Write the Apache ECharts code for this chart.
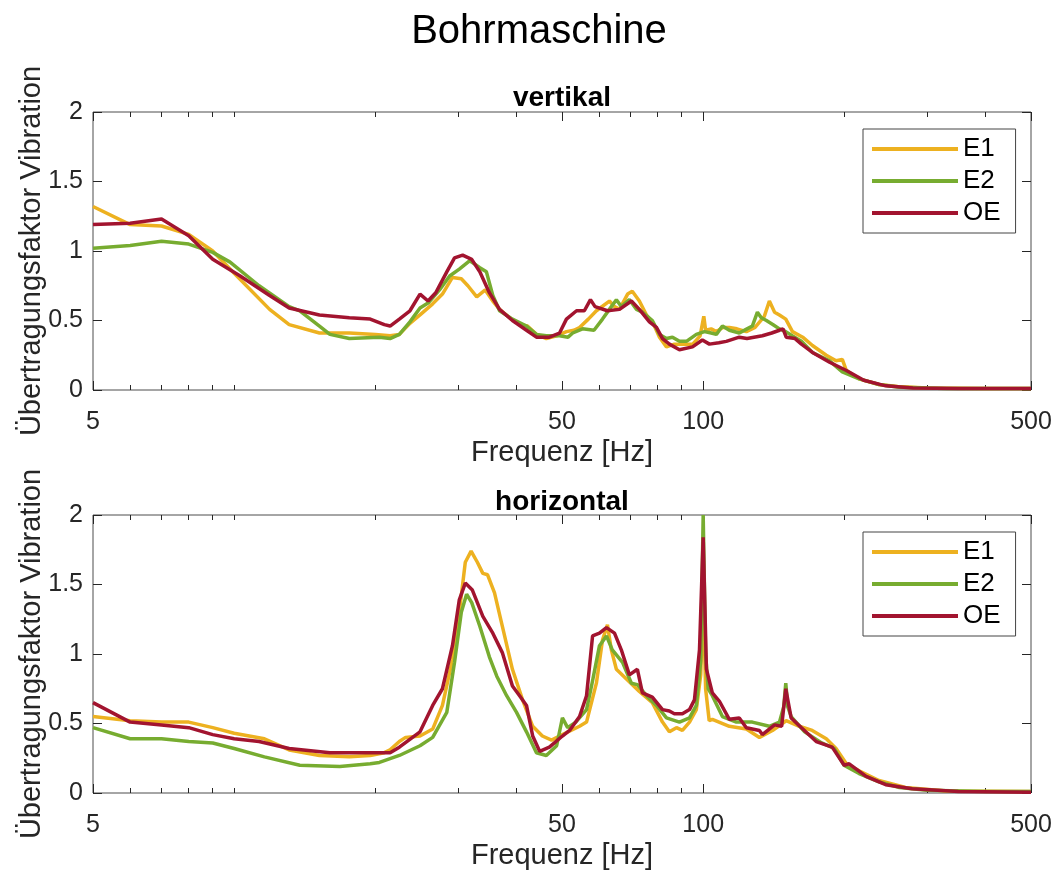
<!DOCTYPE html>
<html>
<head>
<meta charset="utf-8">
<title>Bohrmaschine</title>
<script src="https://cdn.jsdelivr.net/npm/echarts@6.0.0/dist/echarts.min.js"></script>
<style>
html, body { margin: 0; padding: 0; background: #fff; }
#chart { width: 1059px; height: 871px; }
</style>
</head>
<body>
<div id="chart"></div>
<script>
// Frequenz [Hz] / Übertragungsfaktor
var seriesNames = ['E1', 'E2', 'OE'];
var seriesColors = ['#EDB120', '#77AC30', '#A2142F'];
var xLabelTicks = [5, 50, 100, 500];
var xMinorTicks = [6, 7, 8, 9, 10, 20, 30, 40, 60, 70, 80, 90, 200, 300, 400];

// vertikal
var vertE1 = [[5,1.32],[6,1.19],[7,1.18],[8,1.12],[9,1.0],[10,0.84],[11.9,0.58],[13.1,0.47],[15.2,0.41],[17.6,0.41],[20,0.40],[21.5,0.39],[22.5,0.40],[23.7,0.48],[24.9,0.54],[26.5,0.62],[27.8,0.69],[29.2,0.81],[30.5,0.80],[31.5,0.75],[32.9,0.67],[34.3,0.72],[35.6,0.64],[36.8,0.58],[39,0.51],[40.6,0.47],[42.2,0.46],[44.1,0.40],[46.3,0.37],[48.7,0.39],[51.1,0.42],[53,0.43],[54.5,0.45],[56.9,0.51],[59.2,0.57],[63.1,0.64],[64.7,0.60],[66.3,0.58],[69,0.69],[70.6,0.71],[73.1,0.64],[75.7,0.54],[78.5,0.47],[80.7,0.38],[83.5,0.31],[86.8,0.33],[90,0.33],[95,0.33],[98.5,0.39],[100.3,0.53],[101.2,0.43],[104,0.44],[106.7,0.42],[110,0.45],[113.7,0.45],[118,0.44],[123.6,0.42],[129,0.45],[135,0.53],[138.4,0.64],[142,0.56],[145.4,0.54],[150,0.51],[155,0.42],[163,0.38],[171,0.32],[183,0.25],[192,0.21],[198,0.22],[202,0.14],[215,0.08],[237,0.04],[260,0.025],[300,0.015],[400,0.01],[500,0.01]];
var vertE2 = [[5,1.02],[6,1.04],[7,1.07],[8,1.05],[9,0.99],[9.8,0.92],[11.3,0.75],[13.1,0.60],[13.8,0.57],[15.2,0.46],[16,0.40],[17.6,0.37],[20.4,0.38],[21.5,0.37],[22.5,0.40],[23.7,0.49],[24.9,0.59],[26,0.63],[27.4,0.72],[28.8,0.82],[30.2,0.87],[31.8,0.93],[33.4,0.88],[34.5,0.85],[35.6,0.68],[36.8,0.57],[39.2,0.51],[42,0.46],[44.1,0.40],[46.3,0.39],[49.4,0.39],[51.5,0.38],[52.7,0.41],[55.3,0.44],[58.5,0.43],[61,0.51],[63.1,0.58],[65.3,0.65],[66.9,0.60],[69.6,0.65],[72.1,0.58],[74.2,0.56],[77.9,0.50],[80.7,0.40],[83.5,0.37],[86,0.38],[89,0.35],[92.1,0.35],[96.7,0.40],[100.6,0.42],[104,0.41],[106.7,0.40],[109.9,0.46],[113.7,0.43],[119.4,0.41],[124,0.44],[127.3,0.46],[130.5,0.56],[133,0.52],[136.4,0.50],[141,0.47],[145.4,0.44],[150,0.42],[154.8,0.39],[162,0.35],[171,0.27],[186,0.21],[198,0.13],[215,0.08],[237,0.04],[262,0.02],[330,0.01],[500,0.01]];
var vertOE = [[5,1.19],[6,1.20],[7,1.23],[8,1.11],[9,0.94],[10.3,0.82],[11.9,0.68],[13.1,0.59],[15.2,0.54],[17.6,0.52],[19.5,0.51],[20.9,0.47],[21.5,0.46],[22.5,0.51],[23.7,0.57],[24.9,0.69],[25.9,0.64],[26.9,0.70],[28.4,0.85],[29.5,0.95],[30.7,0.97],[32.1,0.94],[33.4,0.85],[35,0.70],[36.8,0.58],[39.2,0.50],[42,0.43],[44.1,0.38],[47,0.38],[49.4,0.41],[51.1,0.51],[53.7,0.57],[55.8,0.57],[57.5,0.65],[58.8,0.60],[62.5,0.57],[66.3,0.58],[70.3,0.64],[73.1,0.58],[76.8,0.49],[79.5,0.45],[81.9,0.37],[84.7,0.33],[89,0.29],[94.9,0.31],[99.6,0.36],[103.1,0.33],[108,0.34],[112,0.35],[119.4,0.38],[124,0.37],[133.7,0.39],[140,0.41],[145.4,0.43],[148,0.44],[150.3,0.38],[157,0.37],[162,0.33],[171,0.27],[186,0.20],[202,0.14],[220,0.07],[245,0.03],[280,0.015],[350,0.01],[500,0.01]];

// horizontal
var horzE1 = [[5,0.55],[6,0.52],[7,0.51],[8,0.51],[9,0.47],[10,0.43],[11.6,0.39],[13.1,0.31],[15.2,0.27],[17.6,0.26],[19.5,0.27],[20.9,0.29],[21.5,0.31],[22.5,0.37],[23.2,0.40],[24.9,0.41],[26.5,0.46],[27.8,0.63],[29.2,0.96],[30.2,1.30],[31.1,1.66],[32.0,1.74],[33.0,1.66],[33.9,1.58],[34.7,1.57],[35.9,1.44],[37.3,1.20],[39.2,0.89],[41.2,0.67],[43.3,0.48],[45.4,0.41],[47.5,0.38],[50.1,0.42],[54.5,0.48],[56.4,0.51],[59.2,0.79],[61,1.10],[62.5,1.21],[63.7,1.03],[65.3,0.89],[68.6,0.82],[73.1,0.73],[77.9,0.65],[81.9,0.51],[84.7,0.44],[87.7,0.47],[90.3,0.45],[93.5,0.51],[96.7,0.60],[98.8,0.85],[100,1.45],[101.2,0.75],[103,0.52],[104.6,0.53],[113.7,0.48],[123.6,0.46],[131.8,0.40],[140.5,0.45],[150.3,0.52],[160.3,0.48],[170.8,0.45],[183,0.39],[192,0.32],[202,0.21],[215,0.16],[237,0.09],[270,0.04],[330,0.015],[500,0.01]];
var horzE2 = [[5,0.47],[6,0.39],[7,0.39],[8,0.37],[9,0.36],[10,0.32],[11.6,0.26],[13.8,0.20],[16.8,0.19],[19.5,0.21],[20.4,0.22],[22.5,0.27],[24.9,0.34],[26.5,0.40],[28.4,0.58],[29.5,0.94],[30.5,1.30],[31.3,1.43],[32.1,1.37],[33.4,1.20],[35,0.98],[36.3,0.84],[38.1,0.70],[40,0.58],[42,0.44],[44.1,0.29],[46.3,0.27],[48.7,0.34],[50.1,0.54],[51.4,0.47],[53.5,0.51],[56.4,0.60],[57.8,0.77],[60.1,1.06],[62.2,1.13],[64,1.03],[67.3,0.94],[70.3,0.79],[72.4,0.78],[75.7,0.70],[79.5,0.63],[83.5,0.54],[89,0.51],[93.5,0.54],[96.7,0.63],[98.8,0.95],[100,2.0],[101.2,1.0],[102.5,0.75],[104.6,0.70],[109.9,0.55],[117.7,0.51],[127.3,0.51],[138.4,0.48],[145.4,0.51],[148.5,0.62],[150,0.79],[151.5,0.62],[154,0.55],[164.6,0.44],[178.9,0.36],[190.4,0.32],[199.6,0.20],[215,0.14],[237,0.08],[262,0.04],[300,0.02],[400,0.01],[500,0.01]];
var horzOE = [[5,0.65],[6,0.51],[7,0.49],[8,0.47],[9,0.42],[10,0.39],[11.3,0.37],[13.1,0.32],[16,0.29],[20,0.29],[21.5,0.29],[22.5,0.33],[24.9,0.44],[26.5,0.63],[27.8,0.75],[29.2,1.06],[30.2,1.39],[31.1,1.51],[32.2,1.46],[33.9,1.27],[35.6,1.15],[37.3,1.01],[39.2,0.77],[40.6,0.70],[42,0.63],[43.3,0.41],[44.8,0.30],[47,0.33],[50.1,0.41],[51.9,0.45],[54.5,0.55],[56.4,0.70],[58.1,1.13],[60.1,1.15],[62.2,1.19],[64.7,1.15],[66.9,1.03],[69.6,0.85],[72.4,0.89],[74.2,0.72],[77.9,0.69],[81.9,0.60],[84.7,0.59],[86.8,0.57],[90.3,0.57],[93.5,0.60],[95.8,0.67],[98.2,1.03],[100,1.84],[101.6,0.89],[104.6,0.72],[108.3,0.66],[113.7,0.53],[119.4,0.54],[123.6,0.47],[131.8,0.45],[133.7,0.42],[142,0.49],[147,0.48],[150,0.75],[154,0.54],[162,0.47],[174.2,0.37],[188.4,0.33],[199.8,0.20],[204.8,0.21],[222.5,0.12],[245,0.06],[279,0.03],[350,0.01],[500,0.005]];

var FONT = '"Liberation Sans", Arial, Helvetica, sans-serif';
var AXIS_COLOR = '#4d4d4d';
var TICK_COLOR = '#262626';
var TEXT_COLOR = '#262626';

var gridTops = [112, 515];
var plotData = [[vertE1, vertE2, vertOE], [horzE1, horzE2, horzOE]];

function makeXAxes(g) {
    var base = {
        gridIndex: g, type: 'log', logBase: 10, min: 5, max: 500,
        axisLine: {show: false}, splitLine: {show: false}, minorTick: {show: false}
    };
    // unten: Haupt-Ticks mit Beschriftung
    var bottomMajor = Object.assign({}, base, {
        position: 'bottom',
        name: 'Frequenz [Hz]', nameLocation: 'middle', nameGap: 48,
        nameTextStyle: {fontSize: 29, color: TEXT_COLOR, fontFamily: FONT},
        axisTick: {show: true, inside: true, length: 9, lineStyle: {color: TICK_COLOR}, customValues: xLabelTicks},
        axisLabel: {show: true, margin: 20, fontSize: 25, color: TEXT_COLOR, fontFamily: FONT,
            customValues: xLabelTicks,
            formatter: function (v) { return String(Math.round(v)); }}
    });
    var bottomMinor = Object.assign({}, base, {
        position: 'bottom',
        axisTick: {show: true, inside: true, length: 5, lineStyle: {color: TICK_COLOR}, customValues: xMinorTicks},
        axisLabel: {show: false}
    });
    var topMajor = Object.assign({}, base, {
        position: 'top',
        axisTick: {show: true, inside: true, length: 9, lineStyle: {color: TICK_COLOR}, customValues: xLabelTicks},
        axisLabel: {show: false}
    });
    var topMinor = Object.assign({}, base, {
        position: 'top',
        axisTick: {show: true, inside: true, length: 5, lineStyle: {color: TICK_COLOR}, customValues: xMinorTicks},
        axisLabel: {show: false}
    });
    return [bottomMajor, bottomMinor, topMajor, topMinor];
}

function makeYAxes(g) {
    var base = {gridIndex: g, type: 'value', min: 0, max: 2, interval: 0.5,
        axisLine: {show: false}, splitLine: {show: false}};
    var left = Object.assign({}, base, {
        position: 'left',
        name: 'Übertragungsfaktor Vibration', nameLocation: 'middle', nameGap: 47,
        nameMoveOverlap: false,
        nameTextStyle: {fontSize: 29, color: TEXT_COLOR, fontFamily: FONT},
        axisTick: {show: true, inside: true, length: 9, lineStyle: {color: TICK_COLOR}},
        axisLabel: {show: true, margin: 10, fontSize: 25, color: TEXT_COLOR, fontFamily: FONT}
    });
    var right = Object.assign({}, base, {
        position: 'right',
        axisTick: {show: true, inside: true, length: 9, lineStyle: {color: TICK_COLOR}},
        axisLabel: {show: false}
    });
    return [left, right];
}

var grids = [], xAxes = [], yAxes = [], series = [], legends = [];
gridTops.forEach(function (top, g) {
    grids.push({left: 93, top: top, width: 938, height: 278, show: true,
        borderColor: AXIS_COLOR, borderWidth: 1, backgroundColor: 'transparent'});
    xAxes = xAxes.concat(makeXAxes(g));
    yAxes = yAxes.concat(makeYAxes(g));
    plotData[g].forEach(function (data, i) {
        series.push({
            type: 'line', name: seriesNames[i], data: data,
            xAxisIndex: g * 4, yAxisIndex: g * 2,
            showSymbol: false, symbol: 'none', clip: true,
            lineStyle: {width: 3.5, color: seriesColors[i]},
            itemStyle: {color: seriesColors[i]}
        });
    });
    legends.push({
        left: 863, top: top + 17, orient: 'vertical',
        data: seriesNames, selectedMode: false,
        icon: 'rect', itemWidth: 86, itemHeight: 4, itemGap: 6,
        padding: [7, 15, 7, 9],
        backgroundColor: '#fff', borderColor: '#444', borderWidth: 1, borderRadius: 0,
        textStyle: {fontSize: 26, lineHeight: 25, color: '#000', fontFamily: FONT}
    });
});

var chart = echarts.init(document.getElementById('chart'), null, {renderer: 'canvas'});
chart.setOption({
    backgroundColor: '#fff',
    animation: false,
    title: [
        {text: 'Bohrmaschine', left: 539, top: 12, textAlign: 'center', padding: 0,
            textStyle: {fontSize: 40, fontWeight: 'normal', color: '#000', fontFamily: FONT}},
        {text: 'vertikal', left: 562, top: 84, textAlign: 'center', padding: 0,
            textStyle: {fontSize: 28, fontWeight: 'bold', color: '#000', fontFamily: FONT}},
        {text: 'horizontal', left: 562, top: 488, textAlign: 'center', padding: 0,
            textStyle: {fontSize: 28, fontWeight: 'bold', color: '#000', fontFamily: FONT}}
    ],
    legend: legends,
    grid: grids,
    xAxis: xAxes,
    yAxis: yAxes,
    series: series
});
</script>
</body>
</html>
